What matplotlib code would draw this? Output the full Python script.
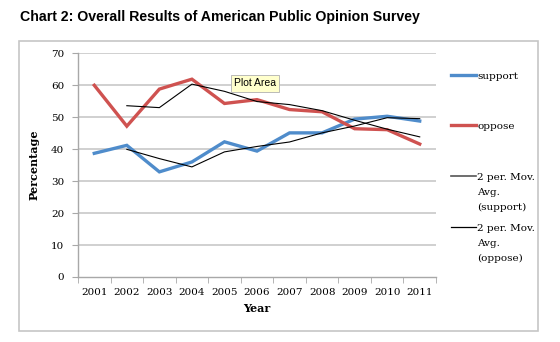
import matplotlib
matplotlib.use("Agg")
import matplotlib.pyplot as plt
from matplotlib.lines import Line2D
from matplotlib.patches import Rectangle
import numpy as np
import pandas as pd

years = ["2001", "2002", "2003", "2004", "2005", "2006",
         "2007", "2008", "2009", "2010", "2011"]
support = [38.7, 41.2, 32.9, 36.0, 42.3, 39.4, 45.1, 45.1, 49.4, 50.3, 48.8]
oppose = [60.0, 47.2, 58.8, 61.9, 54.3, 55.5, 52.4, 51.7, 46.4, 46.1, 41.6]
y_ticks = [0, 10, 20, 30, 40, 50, 60, 70]

# 2-period moving averages (trendlines)
support_ma = pd.Series(support).rolling(2).mean()
oppose_ma = pd.Series(oppose).rolling(2).mean()

BLUE = "#4f8ccb"
RED = "#cf5250"
GRID = "#c4c4c4"
SERIF = "DejaVu Serif"

W, H = 560, 342
fig = plt.figure(figsize=(W / 100, H / 100), dpi=100)
fig.patch.set_facecolor("white")


def fx(px):
    return px / W


def fy(py):
    return 1 - py / H


# chart frame
fig.patches.append(Rectangle((fx(19), fy(331)), fx(538) - fx(19), fy(41) - fy(331),
                             transform=fig.transFigure, fill=False,
                             edgecolor="#c6c6c6", linewidth=1.2))

fig.text(fx(20), fy(16.5), "Chart 2: Overall Results of American Public Opinion Survey",
         family="Liberation Sans", fontweight="bold", fontsize=10.2,
         ha="left", va="center")

ax = fig.add_axes([fx(78), fy(277), fx(436) - fx(78), fy(53.3) - fy(277)])
x = np.arange(len(years))

ax.set_xlim(-0.5, len(years) - 0.5)
ax.set_ylim(0, 70)
ax.set_yticks(y_ticks)
ax.set_yticklabels([str(v) for v in y_ticks], family=SERIF, fontsize=7.5)
ax.set_xticks(x)
ax.set_xticklabels(years, family=SERIF, fontsize=7.5)
ax.set_xticks(np.arange(-0.5, len(years)), minor=True)
ax.tick_params(axis="x", which="major", length=0, pad=8)
ax.tick_params(axis="x", which="minor", length=4, color="#a8a8a8", direction="out")
ax.tick_params(axis="y", length=4, color="#a8a8a8", direction="out", pad=6)

for v in y_ticks[1:]:
    ax.axhline(v, color=GRID, linewidth=1.1, zorder=0)

for side in ["top", "right"]:
    ax.spines[side].set_visible(False)
for side in ["left", "bottom"]:
    ax.spines[side].set_color("#a8a8a8")
    ax.spines[side].set_linewidth(1.0)

ax.plot(x, support, color=BLUE, linewidth=2.4, solid_joinstyle="miter", zorder=3)
ax.plot(x, oppose, color=RED, linewidth=2.4, solid_joinstyle="miter", zorder=3)
ax.plot(x, support_ma, color="black", linewidth=0.8, zorder=4)
ax.plot(x, oppose_ma, color="black", linewidth=0.8, zorder=4)

ax.set_xlabel("Year", family=SERIF, fontweight="bold", fontsize=8, labelpad=4)
ax.set_ylabel("Percentage", family=SERIF, fontweight="bold", fontsize=8, labelpad=8)

# hover label over the plot area
fig.text(fx(255), fy(83.5), "Plot Area", family="Liberation Sans", fontsize=7.5,
         ha="center", va="center",
         bbox=dict(boxstyle="square,pad=0.3", facecolor="#ffffcc",
                   edgecolor="#b0b0b0", linewidth=0.6))

# legend
legend_items = [
    (75, BLUE, 2.4, ["support"]),
    (125, RED, 2.4, ["oppose"]),
    (176, "#555555", 1.2, ["2 per. Mov.", "Avg.", "(support)"]),
    (227, "black", 0.9, ["2 per. Mov.", "Avg.", "(oppose)"]),
]
for py, color, lw, lines in legend_items:
    fig.lines.append(Line2D([fx(451), fx(476)], [fy(py), fy(py)],
                            transform=fig.transFigure, color=color, linewidth=lw))
    for i, t in enumerate(lines):
        fig.text(fx(477), fy(py + 1.5 + i * 14.8), t, family=SERIF, fontsize=7.5,
                 ha="left", va="center")

fig.savefig("out.png", dpi=100, facecolor="white")
